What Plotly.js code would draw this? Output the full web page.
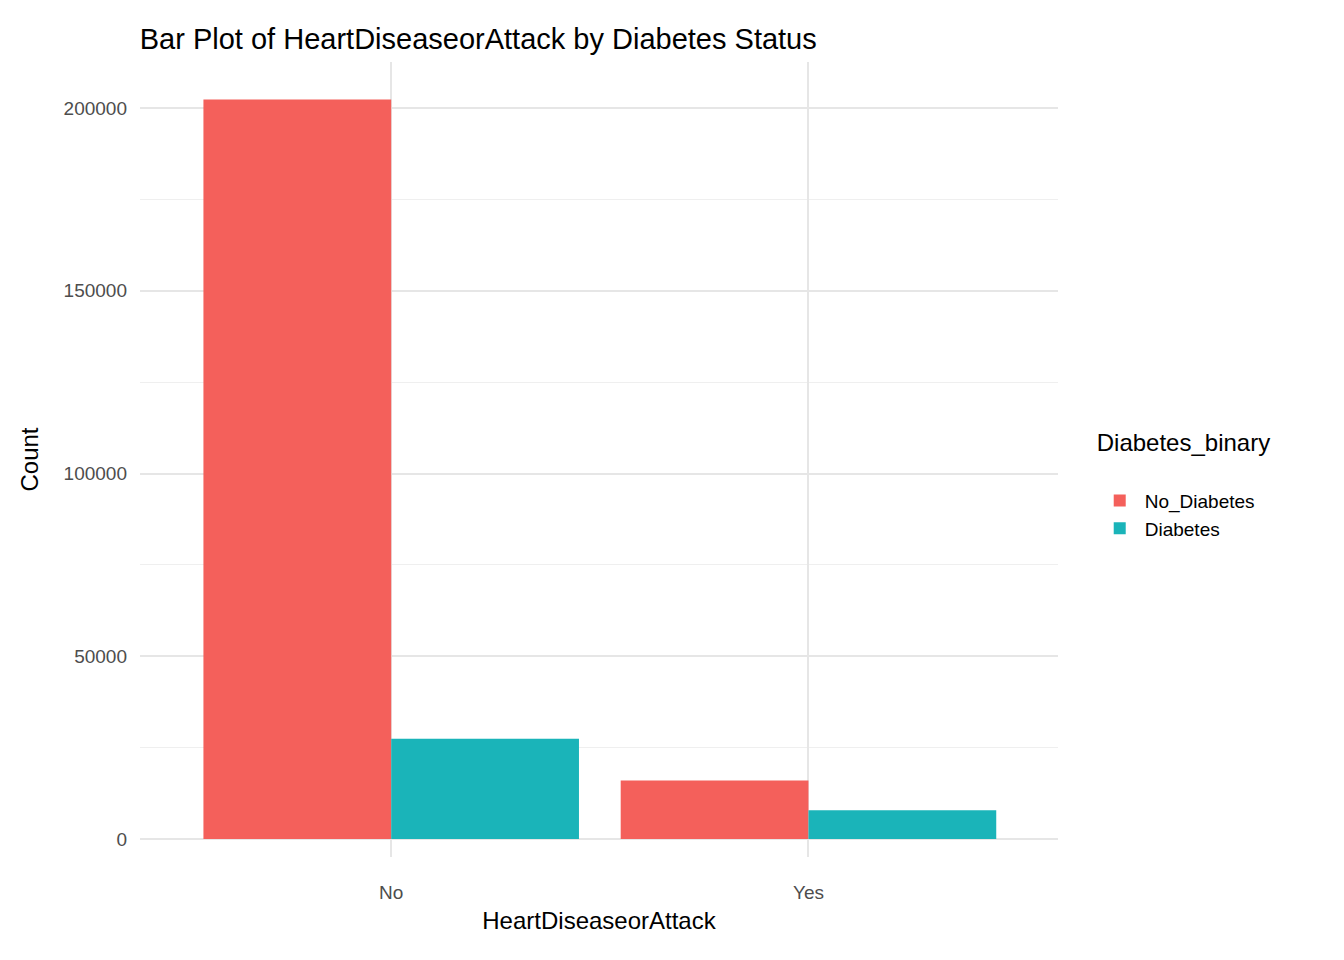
<!DOCTYPE html>
<html>
<head>
<meta charset="utf-8">
<script src="https://cdn.plot.ly/plotly-3.0.1.min.js"></script>
<style>body{margin:0;background:#fff}#chart{width:1344px;height:960px}</style>
</head>
<body>
<div id="chart"></div>
<script>
const categories = ['No', 'Yes'];
const noDiabetes = [202319, 16015];
const diabetes = [27468, 7878];

const grid = '#e6e6e6';
Plotly.newPlot('chart', [
    { x: categories, y: noDiabetes, type: 'bar', name: 'No_Diabetes', marker: { color: '#F4605B' } },
    { x: categories, y: diabetes, type: 'bar', name: 'Diabetes', marker: { color: '#1AB4B9' } }
], {
    barmode: 'group',
    bargap: 0.1,
    bargroupgap: 0,
    paper_bgcolor: '#fff',
    plot_bgcolor: '#fff',
    margin: { l: 140, r: 286, t: 62, b: 103 },
    font: { family: 'Liberation Sans, Arial, sans-serif', color: '#000' },
    title: { text: 'Bar Plot of HeartDiseaseorAttack by Diabetes Status', x: 0.104, xanchor: 'left', y: 0.97, font: { size: 29 } },
    xaxis: {
        title: { text: 'HeartDiseaseorAttack', font: { size: 24 }, standoff: 10 },
        tickfont: { size: 19, color: '#4d4d4d' },
        range: [-0.602, 1.598],
        ticklabelstandoff: 22,
        showgrid: true, gridcolor: grid, gridwidth: 2, zeroline: false, ticks: ''
    },
    yaxis: {
        title: { text: 'Count', font: { size: 24 }, standoff: 18 },
        tickfont: { size: 19, color: '#4d4d4d' },
        range: [-4900, 212600],
        ticklabelstandoff: 12,
        tickvals: [0, 50000, 100000, 150000, 200000],
        ticktext: ['0', '50000', '100000', '150000', '200000'],
        gridcolor: grid, gridwidth: 2, zeroline: false,
        minor: { tickvals: [25000, 75000, 125000, 175000], showgrid: true, gridcolor: '#efefef', gridwidth: 1 }
    },
    showlegend: true,
    legend: {
        x: 1.04, y: 0.47, xanchor: 'left', yanchor: 'middle',
        title: { text: 'Diabetes_binary<br> ', font: { size: 24 } },
        font: { size: 19 }, itemwidth: 40, tracegroupgap: 20
    }
}, { displayModeBar: false });
</script>
</body>
</html>
